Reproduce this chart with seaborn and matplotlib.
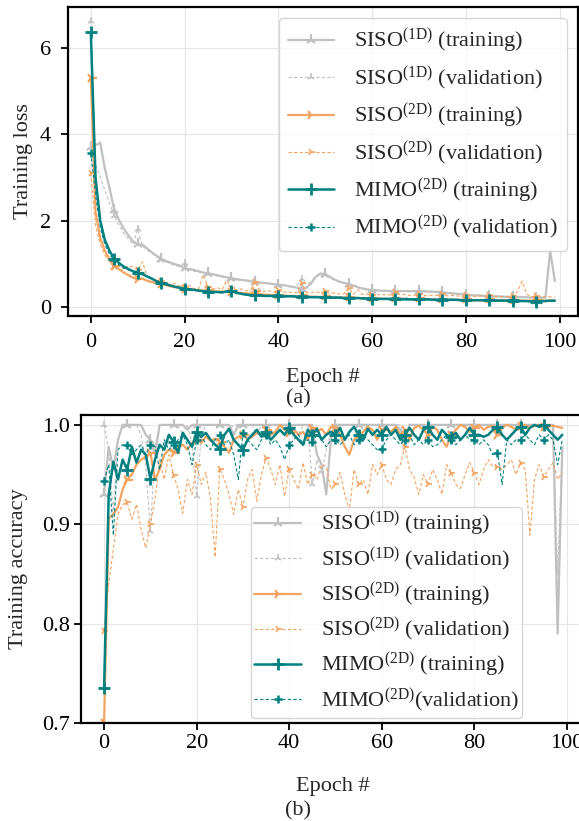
import numpy as np
import matplotlib
matplotlib.use("Agg")
import matplotlib.pyplot as plt
import seaborn as sns

epochs = list(range(100))

# (a) loss curves
loss_siso1d_train = [3.70, 3.74, 3.80, 3.20, 2.75, 2.25, 2.02, 1.82, 1.66, 1.52,
                     1.45, 1.44, 1.36, 1.27, 1.19, 1.12, 1.07, 1.03, 0.99, 0.96,
                     0.90, 0.88, 0.86, 0.83, 0.80, 0.78, 0.76, 0.74, 0.71, 0.69,
                     0.67, 0.65, 0.63, 0.62, 0.60, 0.58, 0.57, 0.56, 0.55, 0.53,
                     0.52, 0.51, 0.49, 0.47, 0.45, 0.43, 0.45, 0.55, 0.70, 0.78,
                     0.76, 0.70, 0.64, 0.59, 0.56, 0.54, 0.50, 0.46, 0.43, 0.41,
                     0.39, 0.39, 0.38, 0.38, 0.37, 0.37, 0.37, 0.37, 0.37, 0.37,
                     0.37, 0.37, 0.36, 0.36, 0.35, 0.35, 0.33, 0.32, 0.31, 0.30,
                     0.29, 0.28, 0.27, 0.27, 0.26, 0.25, 0.25, 0.25, 0.24, 0.24,
                     0.24, 0.23, 0.23, 0.23, 0.22, 0.22, 0.22, 0.22, 1.31, 0.60]
loss_siso1d_val = [6.62, 3.30, 3.00, 2.70, 2.40, 2.10, 1.90, 1.72, 1.58, 1.45,
                   1.80, 1.42, 1.32, 1.24, 1.16, 1.10, 1.05, 1.00, 0.96, 0.93,
                   1.02, 0.86, 0.83, 0.81, 0.79, 0.76, 0.74, 0.72, 0.70, 0.68,
                   0.66, 0.64, 0.62, 0.61, 0.59, 0.57, 0.56, 0.55, 0.54, 0.52,
                   0.51, 0.50, 0.48, 0.46, 0.50, 0.64, 0.52, 0.60, 0.72, 0.76,
                   0.74, 0.68, 0.62, 0.58, 0.55, 0.52, 0.49, 0.45, 0.42, 0.40,
                   0.38, 0.38, 0.37, 0.38, 0.36, 0.36, 0.37, 0.36, 0.36, 0.37,
                   0.36, 0.36, 0.35, 0.36, 0.34, 0.34, 0.33, 0.31, 0.30, 0.30,
                   0.28, 0.28, 0.27, 0.26, 0.26, 0.25, 0.25, 0.24, 0.24, 0.24,
                   0.23, 0.23, 0.23, 0.22, 0.22, 0.22, 0.21, 0.22, 1.15, 0.75]
loss_siso2d_train = [5.30, 2.20, 1.60, 1.30, 1.10, 0.95, 0.88, 0.80, 0.74, 0.68,
                     0.64, 0.66, 0.61, 0.58, 0.55, 0.54, 0.51, 0.48, 0.46, 0.44,
                     0.42, 0.41, 0.40, 0.39, 0.38, 0.40, 0.37, 0.36, 0.36, 0.35,
                     0.36, 0.34, 0.33, 0.32, 0.31, 0.37, 0.30, 0.29, 0.28, 0.28,
                     0.27, 0.27, 0.26, 0.26, 0.25, 0.27, 0.25, 0.24, 0.24, 0.23,
                     0.25, 0.23, 0.22, 0.22, 0.22, 0.24, 0.21, 0.21, 0.21, 0.20,
                     0.20, 0.20, 0.20, 0.19, 0.19, 0.21, 0.19, 0.19, 0.18, 0.18,
                     0.20, 0.18, 0.18, 0.18, 0.17, 0.19, 0.17, 0.17, 0.17, 0.17,
                     0.18, 0.17, 0.16, 0.16, 0.16, 0.18, 0.16, 0.16, 0.16, 0.15,
                     0.17, 0.15, 0.15, 0.15, 0.15, 0.16, 0.15, 0.15, 0.15, 0.15]
loss_siso2d_val = [3.10, 1.90, 1.45, 1.20, 1.05, 0.92, 0.85, 0.90, 0.95, 0.93,
                   0.85, 1.05, 0.72, 0.66, 0.62, 0.60, 0.55, 0.52, 0.55, 0.48,
                   0.46, 0.50, 0.43, 0.42, 0.75, 0.46, 0.42, 0.45, 0.40, 0.62,
                   0.45, 0.40, 0.42, 0.38, 0.37, 0.58, 0.40, 0.36, 0.38, 0.35,
                   0.40, 0.34, 0.36, 0.33, 0.34, 0.55, 0.35, 0.33, 0.36, 0.32,
                   0.37, 0.31, 0.33, 0.30, 0.31, 0.45, 0.30, 0.40, 0.29, 0.30,
                   0.29, 0.30, 0.28, 0.29, 0.28, 0.36, 0.28, 0.30, 0.27, 0.28,
                   0.30, 0.27, 0.26, 0.28, 0.27, 0.31, 0.26, 0.27, 0.26, 0.25,
                   0.27, 0.26, 0.25, 0.26, 0.25, 0.29, 0.25, 0.24, 0.25, 0.24,
                   0.26, 0.35, 0.60, 0.30, 0.24, 0.25, 0.24, 0.24, 0.24, 0.23]
loss_mimo_train = [6.35, 3.00, 2.00, 1.55, 1.30, 1.12, 1.02, 0.94, 0.88, 0.83,
                   0.80, 0.76, 0.71, 0.66, 0.60, 0.56, 0.53, 0.50, 0.47, 0.45,
                   0.42, 0.41, 0.40, 0.38, 0.37, 0.36, 0.35, 0.35, 0.34, 0.36,
                   0.38, 0.33, 0.31, 0.29, 0.28, 0.27, 0.27, 0.26, 0.26, 0.26,
                   0.26, 0.25, 0.25, 0.25, 0.24, 0.24, 0.24, 0.23, 0.23, 0.23,
                   0.23, 0.22, 0.22, 0.22, 0.21, 0.21, 0.21, 0.21, 0.20, 0.20,
                   0.19, 0.19, 0.19, 0.19, 0.19, 0.19, 0.18, 0.18, 0.18, 0.18,
                   0.18, 0.18, 0.18, 0.17, 0.17, 0.17, 0.17, 0.17, 0.17, 0.16,
                   0.16, 0.16, 0.16, 0.16, 0.16, 0.16, 0.15, 0.15, 0.15, 0.15,
                   0.15, 0.15, 0.14, 0.14, 0.13, 0.12, 0.14, 0.14, 0.15, 0.15]
loss_mimo_val = [3.57, 2.60, 1.85, 1.45, 1.22, 1.08, 0.98, 0.90, 0.86, 0.82,
                 0.78, 0.78, 0.72, 0.66, 0.60, 0.55, 0.52, 0.50, 0.47, 0.45,
                 0.43, 0.41, 0.40, 0.39, 0.37, 0.36, 0.36, 0.35, 0.34, 0.35,
                 0.37, 0.33, 0.31, 0.30, 0.29, 0.27, 0.28, 0.27, 0.26, 0.27,
                 0.27, 0.26, 0.26, 0.25, 0.25, 0.25, 0.25, 0.24, 0.24, 0.24,
                 0.24, 0.23, 0.23, 0.23, 0.22, 0.22, 0.22, 0.22, 0.21, 0.21,
                 0.20, 0.20, 0.20, 0.20, 0.20, 0.20, 0.19, 0.22, 0.19, 0.19,
                 0.19, 0.19, 0.18, 0.18, 0.18, 0.18, 0.18, 0.18, 0.17, 0.17,
                 0.17, 0.17, 0.17, 0.17, 0.17, 0.17, 0.16, 0.16, 0.16, 0.16,
                 0.16, 0.16, 0.15, 0.15, 0.15, 0.15, 0.15, 0.15, 0.15, 0.15]

# (b) accuracy curves
acc_siso1d_train = [0.930, 0.978, 0.955, 0.985, 1.000, 1.000, 1.000, 1.000, 1.000, 0.990,
                    0.985, 0.970, 1.000, 1.000, 1.000, 1.000, 1.000, 1.000, 0.995, 1.000,
                    1.000, 1.000, 1.000, 1.000, 1.000, 1.000, 1.000, 1.000, 0.990, 1.000,
                    1.000, 1.000, 1.000, 1.000, 1.000, 1.000, 1.000, 1.000, 1.000, 1.000,
                    1.000, 1.000, 1.000, 1.000, 1.000, 0.995, 0.970, 0.960, 0.930, 0.985,
                    1.000, 1.000, 1.000, 1.000, 1.000, 1.000, 1.000, 1.000, 1.000, 1.000,
                    1.000, 1.000, 1.000, 1.000, 0.995, 0.985, 1.000, 1.000, 1.000, 1.000,
                    1.000, 1.000, 1.000, 1.000, 1.000, 1.000, 1.000, 1.000, 1.000, 1.000,
                    1.000, 1.000, 1.000, 1.000, 1.000, 1.000, 1.000, 1.000, 1.000, 1.000,
                    1.000, 1.000, 1.000, 1.000, 1.000, 1.000, 1.000, 1.000, 0.790, 0.978]
acc_siso1d_val = [1.000, 0.975, 0.910, 0.985, 1.000, 1.000, 1.000, 1.000, 0.990, 0.960,
                  0.893, 0.975, 1.000, 1.000, 1.000, 1.000, 1.000, 0.990, 1.000, 0.980,
                  0.928, 0.990, 1.000, 1.000, 1.000, 1.000, 1.000, 0.995, 1.000, 1.000,
                  1.000, 1.000, 1.000, 0.990, 1.000, 1.000, 1.000, 1.000, 1.000, 1.000,
                  1.000, 1.000, 0.990, 1.000, 1.000, 0.940, 0.965, 0.950, 0.975, 0.990,
                  1.000, 1.000, 1.000, 1.000, 1.000, 1.000, 0.995, 1.000, 1.000, 1.000,
                  1.000, 1.000, 1.000, 1.000, 1.000, 0.980, 1.000, 1.000, 1.000, 1.000,
                  1.000, 1.000, 1.000, 1.000, 1.000, 1.000, 1.000, 1.000, 1.000, 1.000,
                  1.000, 1.000, 1.000, 1.000, 1.000, 1.000, 1.000, 1.000, 1.000, 1.000,
                  1.000, 1.000, 1.000, 1.000, 1.000, 1.000, 1.000, 1.000, 0.850, 0.978]
acc_siso2d_train = [0.700, 0.906, 0.910, 0.917, 0.935, 0.945, 0.950, 0.960, 0.965, 0.968,
                    0.972, 0.945, 0.955, 0.970, 0.975, 0.972, 0.978, 0.980, 0.975, 0.982,
                    0.985, 0.982, 0.988, 0.984, 0.986, 0.983, 0.978, 0.972, 0.985, 0.988,
                    0.990, 0.986, 0.988, 0.992, 0.990, 0.995, 0.990, 0.993, 1.000, 0.995,
                    0.992, 0.995, 0.990, 0.993, 0.985, 0.997, 0.993, 0.996, 0.990, 0.998,
                    0.997, 0.990, 0.978, 0.970, 0.985, 0.990, 0.993, 0.998, 0.995, 0.985,
                    0.995, 0.997, 0.993, 0.998, 0.990, 0.995, 0.985, 0.997, 0.999, 0.995,
                    0.990, 0.998, 0.995, 0.985, 0.978, 0.990, 0.995, 1.000, 0.998, 0.993,
                    0.997, 1.000, 0.995, 0.998, 0.999, 0.990, 0.997, 1.000, 0.998, 0.995,
                    0.999, 1.000, 0.997, 0.999, 1.000, 0.998, 1.000, 0.999, 0.998, 0.997]
acc_siso2d_val = [0.793, 0.840, 0.875, 0.910, 0.920, 0.922, 0.905, 0.920, 0.895, 0.876,
                  0.900, 0.925, 0.965, 0.945, 0.970, 0.950, 0.935, 0.911, 0.945, 0.930,
                  0.960, 0.940, 0.952, 0.925, 0.867, 0.956, 0.945, 0.930, 0.910, 0.935,
                  0.917, 0.945, 0.955, 0.923, 0.950, 0.967, 0.955, 0.940, 0.960, 0.928,
                  0.956, 0.945, 0.935, 0.962, 0.940, 0.950, 0.945, 0.960, 0.958, 0.935,
                  0.940, 0.952, 0.930, 0.914, 0.955, 0.940, 0.945, 0.930, 0.960, 0.950,
                  0.960, 0.945, 0.940, 0.955, 0.960, 0.978, 0.955, 0.947, 0.930, 0.950,
                  0.940, 0.955, 0.945, 0.930, 0.960, 0.952, 0.940, 0.936, 0.950, 0.962,
                  0.952, 0.940, 0.955, 0.965, 0.958, 0.958, 0.955, 0.960, 0.965, 0.950,
                  0.962, 0.955, 0.889, 0.945, 0.960, 0.948, 0.955, 0.962, 0.945, 0.952]
acc_mimo_train = [0.735, 0.930, 0.963, 0.945, 0.965, 0.955, 0.978, 0.962, 0.975, 0.970,
                  0.946, 0.965, 0.980, 0.975, 0.990, 0.983, 0.972, 0.992, 0.985, 0.978,
                  0.993, 0.988, 0.992, 0.985, 0.980, 0.976, 0.990, 0.996, 0.985, 0.980,
                  0.975, 0.985, 0.990, 0.995, 0.988, 0.993, 0.985, 0.990, 0.995, 0.990,
                  0.997, 0.990, 0.985, 0.980, 0.995, 0.990, 0.996, 0.985, 0.990, 0.993,
                  0.990, 0.997, 0.985, 0.993, 0.998, 0.990, 0.985, 0.996, 0.990, 0.995,
                  0.990, 0.998, 0.990, 0.995, 0.985, 0.990, 0.997, 0.990, 0.985, 0.995,
                  0.998, 0.990, 0.985, 0.995, 0.990, 0.988, 0.992, 0.985, 0.990, 0.997,
                  0.990, 0.990, 0.988, 0.990, 0.995, 0.998, 0.990, 0.985, 0.990, 0.995,
                  0.998, 0.990, 0.997, 1.000, 0.998, 1.000, 0.995, 0.990, 0.985, 0.990]
acc_mimo_val = [0.944, 0.960, 0.889, 0.975, 0.980, 0.980, 0.970, 0.975, 0.980, 0.970,
                0.980, 0.978, 0.955, 0.985, 0.975, 0.980, 0.985, 0.990, 0.980, 0.960,
                0.985, 0.990, 0.980, 0.975, 0.985, 0.990, 0.980, 0.985, 0.970, 0.945,
                0.992, 0.985, 0.980, 0.975, 0.985, 0.990, 0.980, 0.985, 0.978, 0.965,
                0.980, 0.985, 0.990, 0.980, 0.985, 0.983, 0.990, 0.985, 0.978, 0.985,
                0.985, 0.980, 0.985, 0.990, 0.980, 0.985, 0.990, 0.985, 0.980, 0.975,
                0.976, 0.985, 0.990, 0.985, 0.980, 0.985, 0.990, 0.980, 0.985, 0.980,
                0.985, 0.978, 0.980, 0.985, 0.990, 0.985, 0.980, 0.985, 0.990, 0.985,
                0.985, 0.980, 0.985, 0.980, 0.970, 0.972, 0.940, 0.985, 0.980, 0.985,
                0.985, 0.990, 0.985, 0.980, 0.990, 0.985, 0.990, 0.985, 0.960, 0.985]

GRAY = "#c0c0c0"
ORANGE = "#f4a460"
TEAL = "#008080"
FS = 16

sns.set_theme(style="ticks", rc={
    "axes.edgecolor": "black",
    "axes.linewidth": 1.6,
    "grid.color": "#e6e6e6",
    "grid.linewidth": 0.8,
    "xtick.major.width": 1.3,
    "ytick.major.width": 1.3,
    "xtick.major.size": 5,
    "ytick.major.size": 5,
    "xtick.color": "black",
    "ytick.color": "black",
    "legend.edgecolor": "#cccccc",
})
plt.rcParams["font.family"] = ["Liberation Serif", "DejaVu Serif"]
plt.rcParams["mathtext.fontset"] = "custom"
plt.rcParams["mathtext.rm"] = "Liberation Serif"
plt.rcParams["mathtext.it"] = "Liberation Serif:italic"
plt.rcParams["font.size"] = FS


def draw(ax, series, labels):
    styles = [
        dict(color=GRAY, marker="2", lw=1.6, ls="-", ms=8, mew=1.6),
        dict(color=GRAY, marker="2", lw=0.8, ls=(0, (3, 2)), ms=6, mew=1.2),
        dict(color=ORANGE, marker="4", lw=1.6, ls="-", ms=8, mew=1.6),
        dict(color=ORANGE, marker="4", lw=0.8, ls=(0, (3, 2)), ms=6, mew=1.2),
        dict(color=TEAL, marker="+", lw=1.8, ls="-", ms=9, mew=2.0),
        dict(color=TEAL, marker="+", lw=0.8, ls=(0, (3, 2)), ms=6, mew=1.8),
    ]
    for vals, lab, st in zip(series, labels, styles):
        sns.lineplot(x=epochs, y=vals, ax=ax, label=lab, markevery=5,
                     color=st["color"], marker=st["marker"], linewidth=st["lw"],
                     linestyle=st["ls"], markersize=st["ms"],
                     markeredgewidth=st["mew"], markeredgecolor=st["color"])
    ax.grid(True)


fig = plt.figure(figsize=(5.79, 8.21), dpi=100)
ax1 = fig.add_axes([0.1168, 0.6151, 0.8815, 0.3767])
ax2 = fig.add_axes([0.1402, 0.1194, 0.8705, 0.3752])

labels_a = [r"SISO$^{\mathrm{(1D)}}$ (training)", r"SISO$^{\mathrm{(1D)}}$ (validation)",
            r"SISO$^{\mathrm{(2D)}}$ (training)", r"SISO$^{\mathrm{(2D)}}$ (validation)",
            r"MIMO$^{\mathrm{(2D)}}$ (training)", r"MIMO$^{\mathrm{(2D)}}$ (validation)"]
labels_b = labels_a[:5] + [r"MIMO$^{\mathrm{(2D)}}$(validation)"]

draw(ax1, [loss_siso1d_train, loss_siso1d_val, loss_siso2d_train, loss_siso2d_val,
           loss_mimo_train, loss_mimo_val], labels_a)
ax1.set_xticks([0, 20, 40, 60, 80, 100])
ax1.set_yticks([0, 2, 4, 6])
ax1.set_ylabel("Training loss", fontsize=FS, labelpad=5)
ax1.set_xlabel("Epoch #", fontsize=FS, labelpad=12)
ax1.tick_params(labelsize=FS, pad=7)
ax1.legend(loc="upper right", fontsize=FS, handlelength=2.1, handletextpad=0.9,
           labelspacing=0.4, framealpha=0.8)

draw(ax2, [acc_siso1d_train, acc_siso1d_val, acc_siso2d_train, acc_siso2d_val,
           acc_mimo_train, acc_mimo_val], labels_b)
ax2.set_ylim(0.7, 1.01)
ax2.set_xticks([0, 20, 40, 60, 80, 100])
ax2.set_yticks([0.7, 0.8, 0.9, 1.0])
ax2.set_ylabel("Training accuracy", fontsize=FS, labelpad=10)
ax2.set_xlabel("Epoch #", fontsize=FS, labelpad=17)
ax2.tick_params(labelsize=FS, pad=3)
ax2.legend(loc="lower left", bbox_to_anchor=(0.337, 0.016), borderaxespad=0,
           fontsize=FS, handlelength=2.1, handletextpad=0.9, labelspacing=0.3,
           borderpad=0.15, framealpha=0.8)

fig.text(298 / 579, 1 - 399 / 821, "(a)", ha="center", va="center", fontsize=FS)
fig.text(298 / 579, 1 - 811 / 821, "(b)", ha="center", va="center", fontsize=FS)

fig.savefig("out.png", dpi=100)
